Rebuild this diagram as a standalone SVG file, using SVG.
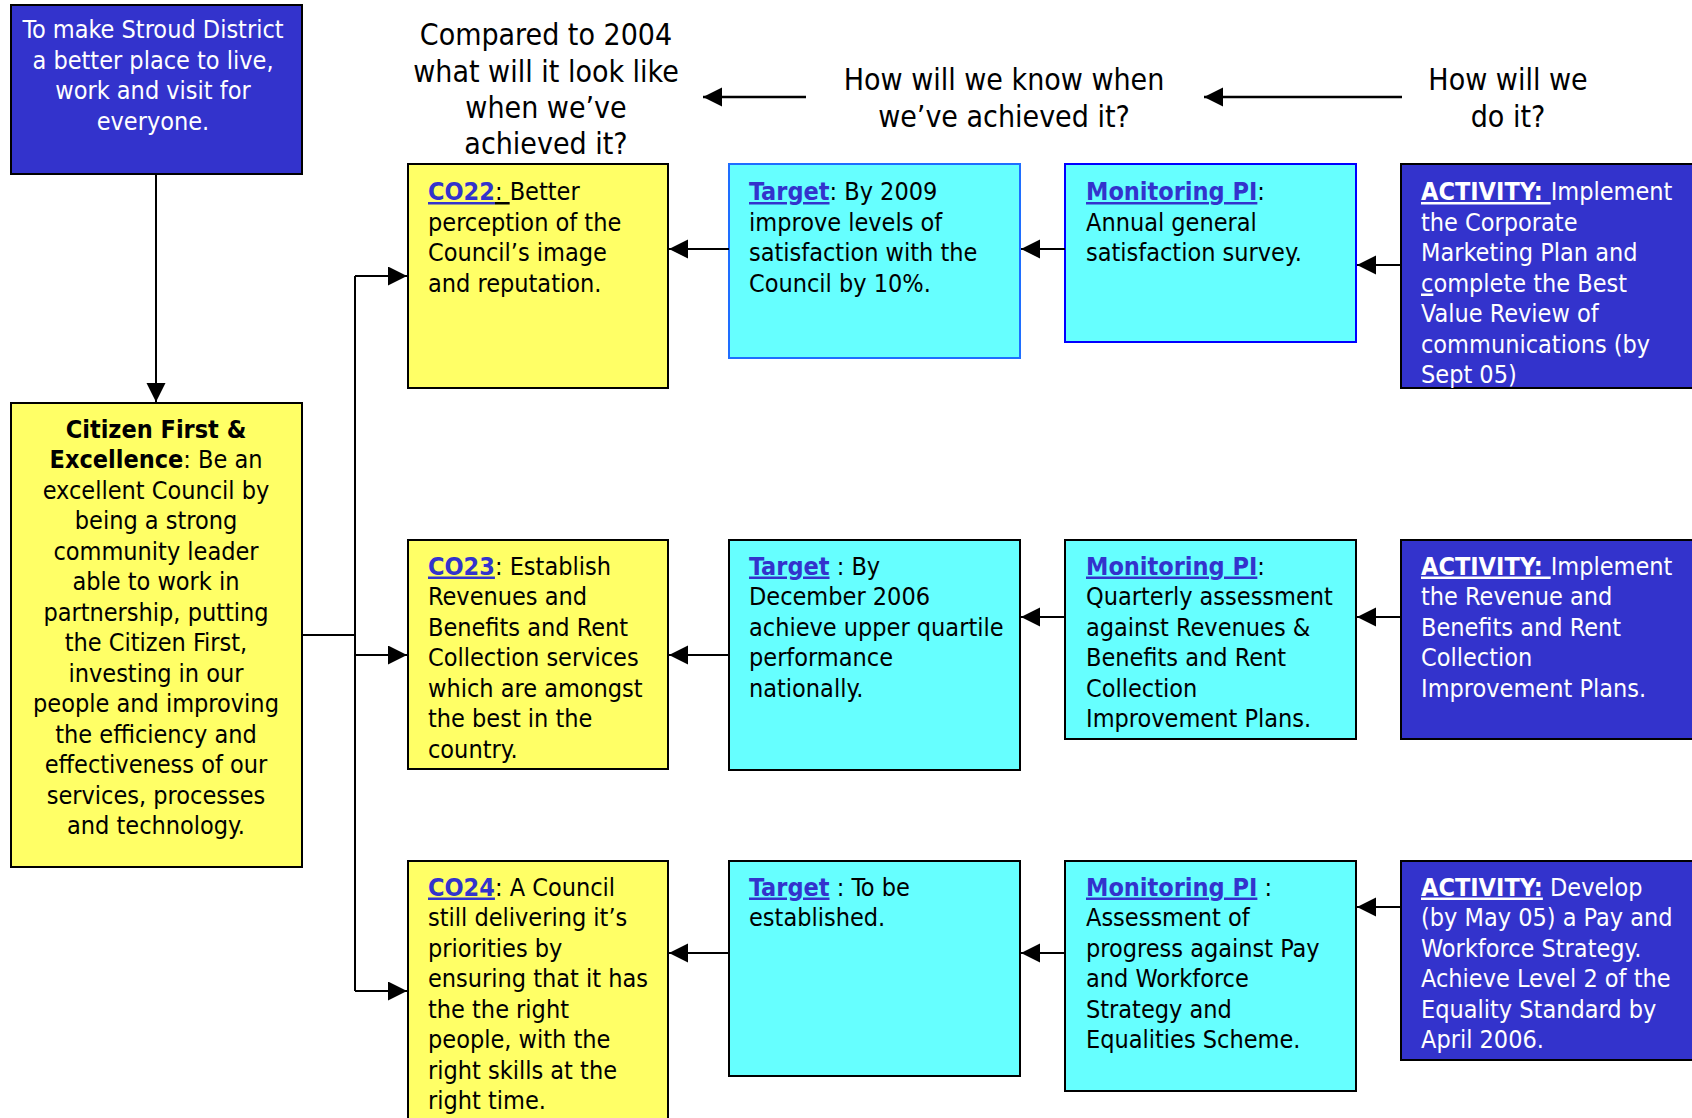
<svg xmlns="http://www.w3.org/2000/svg" width="1692" height="1118" viewBox="0 0 1692 1118">
  <style>
    .box { stroke: #000; stroke-width: 2; }
    .blue { fill: #3333cc; }
    .yellow { fill: #ffff66; }
    .cyan { fill: #66ffff; }
    .txt { font-family: 'DejaVu Sans Condensed', 'DejaVu Sans', sans-serif; font-stretch: condensed; font-size: 25px; fill: #000; }
    .head { font-family: 'DejaVu Sans Condensed', 'DejaVu Sans', sans-serif; font-stretch: condensed; font-size: 30px; fill: #000; text-anchor: middle; }
    .white { fill: #fff; }
    .mid { text-anchor: middle; }
    .lbl { font-weight: bold; fill: #3333cc; text-decoration: underline; }
    .act { font-weight: bold; fill: #fff; text-decoration: underline; }
    .u { text-decoration: underline; }
    .b { font-weight: bold; }
    .link { fill: none; stroke: #000; stroke-width: 2; }
    .hlink { fill: none; stroke: #000; stroke-width: 2.5; }
  </style>
  <defs>
    <marker id="arrow" markerUnits="userSpaceOnUse" markerWidth="20" markerHeight="20" refX="19" refY="9.5" orient="auto">
      <path d="M0,0 L19,9.5 L0,19 Z" fill="#000"/>
    </marker>
  </defs>

  <rect width="1692" height="1118" fill="#fff"/>

  <!-- column headings -->
  <g id="heading-outcome">
    <text class="head"><tspan x="546" y="45">Compared to 2004</tspan><tspan x="546" y="81.5">what will it look like</tspan><tspan x="546" y="117.5">when we’ve</tspan><tspan x="546" y="154">achieved it?</tspan></text>
  </g>
  <g id="heading-measure">
    <text class="head"><tspan x="1004" y="90">How will we know when</tspan><tspan x="1004" y="126.5">we’ve achieved it?</tspan></text>
  </g>
  <g id="heading-action">
    <text class="head"><tspan x="1508" y="90">How will we</tspan><tspan x="1508" y="126.5">do it?</tspan></text>
  </g>

  <!-- vision -->
  <g id="vision">
    <rect class="box blue" x="11" y="5" width="291" height="169"/>
    <text class="txt white mid"><tspan x="153" y="38">To make Stroud District</tspan><tspan x="153" y="68.5">a better place to live,</tspan><tspan x="153" y="99">work and visit for</tspan><tspan x="153" y="129.5">everyone.</tspan></text>
  </g>

  <!-- corporate theme -->
  <g id="theme">
    <rect class="box yellow" x="11" y="403" width="291" height="464"/>
    <text class="txt mid"><tspan x="156" y="437.5" class="b">Citizen First &amp;</tspan><tspan x="156" y="468"><tspan class="b">Excellence</tspan>: Be an</tspan><tspan x="156" y="498.5">excellent Council by</tspan><tspan x="156" y="529">being a strong</tspan><tspan x="156" y="559.5">community leader</tspan><tspan x="156" y="590">able to work in</tspan><tspan x="156" y="620.5">partnership, putting</tspan><tspan x="156" y="651">the Citizen First,</tspan><tspan x="156" y="681.5">investing in our</tspan><tspan x="156" y="712">people and improving</tspan><tspan x="156" y="742.5">the efficiency and</tspan><tspan x="156" y="773">effectiveness of our</tspan><tspan x="156" y="803.5">services, processes</tspan><tspan x="156" y="834">and technology.</tspan></text>
  </g>

  <!-- row 1 -->
  <g id="co22">
    <rect class="box yellow" x="408" y="164" width="260" height="224"/>
    <text class="txt"><tspan x="428" y="200"><tspan class="lbl">CO22</tspan><tspan class="u">: </tspan>Better</tspan><tspan x="428" y="230.5">perception of the</tspan><tspan x="428" y="261">Council’s image</tspan><tspan x="428" y="291.5">and reputation.</tspan></text>
  </g>
  <g id="target1">
    <rect class="cyan" x="729" y="164" width="291" height="194" stroke="#1e6eff" stroke-width="2"/>
    <text class="txt"><tspan x="749" y="200"><tspan class="lbl">Target</tspan>: By 2009</tspan><tspan x="749" y="230.5">improve levels of</tspan><tspan x="749" y="261">satisfaction with the</tspan><tspan x="749" y="291.5">Council by 10%.</tspan></text>
  </g>
  <g id="monitor1">
    <rect class="cyan" x="1065" y="164" width="291" height="178" stroke="#0000ff" stroke-width="2"/>
    <text class="txt"><tspan x="1086" y="200"><tspan class="lbl">Monitoring PI</tspan>:</tspan><tspan x="1086" y="230.5">Annual general</tspan><tspan x="1086" y="261">satisfaction survey.</tspan></text>
  </g>
  <g id="activity1">
    <rect class="box blue" x="1401" y="164" width="300" height="224"/>
    <text class="txt white"><tspan x="1421" y="200"><tspan class="act">ACTIVITY: </tspan>Implement</tspan><tspan x="1421" y="230.5">the Corporate</tspan><tspan x="1421" y="261">Marketing Plan and</tspan><tspan x="1421" y="291.5"><tspan class="u">c</tspan>omplete the Best</tspan><tspan x="1421" y="322">Value Review of</tspan><tspan x="1421" y="352.5">communications (by</tspan><tspan x="1421" y="383">Sept 05)</tspan></text>
  </g>

  <!-- row 2 -->
  <g id="co23">
    <rect class="box yellow" x="408" y="540" width="260" height="229"/>
    <text class="txt"><tspan x="428" y="574.5"><tspan class="lbl">CO23</tspan>: Establish</tspan><tspan x="428" y="605">Revenues and</tspan><tspan x="428" y="635.5">Benefits and Rent</tspan><tspan x="428" y="666">Collection services</tspan><tspan x="428" y="696.5">which are amongst</tspan><tspan x="428" y="727">the best in the</tspan><tspan x="428" y="757.5">country.</tspan></text>
  </g>
  <g id="target2">
    <rect class="box cyan" x="729" y="540" width="291" height="230"/>
    <text class="txt"><tspan x="749" y="574.5"><tspan class="lbl">Target</tspan> : By</tspan><tspan x="749" y="605">December 2006</tspan><tspan x="749" y="635.5">achieve upper quartile</tspan><tspan x="749" y="666">performance</tspan><tspan x="749" y="696.5">nationally.</tspan></text>
  </g>
  <g id="monitor2">
    <rect class="box cyan" x="1065" y="540" width="291" height="199"/>
    <text class="txt"><tspan x="1086" y="574.5"><tspan class="lbl">Monitoring PI</tspan>:</tspan><tspan x="1086" y="605">Quarterly assessment</tspan><tspan x="1086" y="635.5">against Revenues &amp;</tspan><tspan x="1086" y="666">Benefits and Rent</tspan><tspan x="1086" y="696.5">Collection</tspan><tspan x="1086" y="727">Improvement Plans.</tspan></text>
  </g>
  <g id="activity2">
    <rect class="box blue" x="1401" y="540" width="300" height="199"/>
    <text class="txt white"><tspan x="1421" y="574.5"><tspan class="act">ACTIVITY: </tspan>Implement</tspan><tspan x="1421" y="605">the Revenue and</tspan><tspan x="1421" y="635.5">Benefits and Rent</tspan><tspan x="1421" y="666">Collection</tspan><tspan x="1421" y="696.5">Improvement Plans.</tspan></text>
  </g>

  <!-- row 3 -->
  <g id="co24">
    <rect class="box yellow" x="408" y="861" width="260" height="270"/>
    <text class="txt"><tspan x="428" y="895.5"><tspan class="lbl">CO24</tspan>: A Council</tspan><tspan x="428" y="926">still delivering it’s</tspan><tspan x="428" y="956.5">priorities by</tspan><tspan x="428" y="987">ensuring that it has</tspan><tspan x="428" y="1017.5">the the right</tspan><tspan x="428" y="1048">people, with the</tspan><tspan x="428" y="1078.5">right skills at the</tspan><tspan x="428" y="1109">right time.</tspan></text>
  </g>
  <g id="target3">
    <rect class="box cyan" x="729" y="861" width="291" height="215"/>
    <text class="txt"><tspan x="749" y="895.5"><tspan class="lbl">Target</tspan> : To be</tspan><tspan x="749" y="926">established.</tspan></text>
  </g>
  <g id="monitor3">
    <rect class="box cyan" x="1065" y="861" width="291" height="230"/>
    <text class="txt"><tspan x="1086" y="895.5"><tspan class="lbl">Monitoring PI</tspan> :</tspan><tspan x="1086" y="926">Assessment of</tspan><tspan x="1086" y="956.5">progress against Pay</tspan><tspan x="1086" y="987">and Workforce</tspan><tspan x="1086" y="1017.5">Strategy and</tspan><tspan x="1086" y="1048">Equalities Scheme.</tspan></text>
  </g>
  <g id="activity3">
    <rect class="box blue" x="1401" y="861" width="300" height="199"/>
    <text class="txt white"><tspan x="1421" y="895.5"><tspan class="act">ACTIVITY:</tspan> Develop</tspan><tspan x="1421" y="926">(by May 05) a Pay and</tspan><tspan x="1421" y="956.5">Workforce Strategy.</tspan><tspan x="1421" y="987">Achieve Level 2 of the</tspan><tspan x="1421" y="1017.5">Equality Standard by</tspan><tspan x="1421" y="1048">April 2006.</tspan></text>
  </g>

  <!-- connectors -->
  <g id="connectors">
    <path class="hlink" d="M806,97 H703" marker-end="url(#arrow)"/>
    <path class="hlink" d="M1402,97 H1204" marker-end="url(#arrow)"/>
    <path class="link" d="M156,174 V402" marker-end="url(#arrow)"/>
    <path class="link" d="M302,635 H355 M355,276 V991"/>
    <path class="link" d="M355,276 H407" marker-end="url(#arrow)"/>
    <path class="link" d="M355,655 H407" marker-end="url(#arrow)"/>
    <path class="link" d="M355,991 H407" marker-end="url(#arrow)"/>
    <path class="link" d="M729,249 H669" marker-end="url(#arrow)"/>
    <path class="link" d="M1065,249 H1021" marker-end="url(#arrow)"/>
    <path class="link" d="M1401,265 H1357" marker-end="url(#arrow)"/>
    <path class="link" d="M729,655 H669" marker-end="url(#arrow)"/>
    <path class="link" d="M1065,617 H1021" marker-end="url(#arrow)"/>
    <path class="link" d="M1401,617 H1357" marker-end="url(#arrow)"/>
    <path class="link" d="M729,953 H669" marker-end="url(#arrow)"/>
    <path class="link" d="M1065,953 H1021" marker-end="url(#arrow)"/>
    <path class="link" d="M1401,907 H1357" marker-end="url(#arrow)"/>
  </g>
</svg>
